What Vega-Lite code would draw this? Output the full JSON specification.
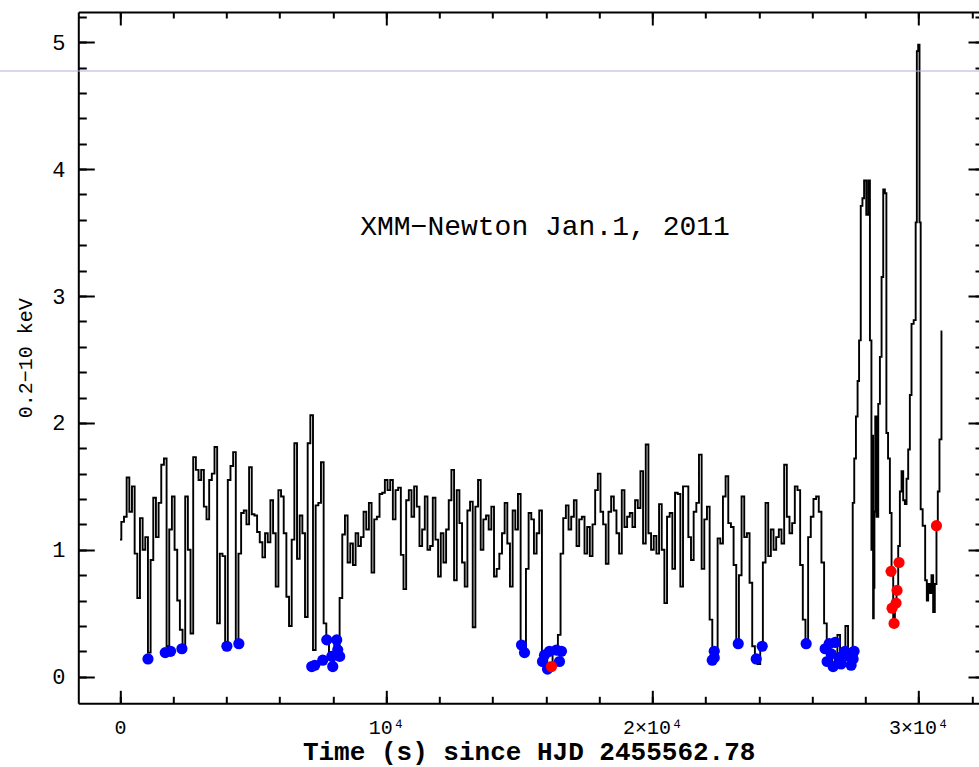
{
"$schema":"https://vega.github.io/schema/vega-lite/v6.json",
"width":900.7,"height":691.3,
"autosize":{"type":"none"},
"padding":{"left":78.3,"top":12,"right":0,"bottom":63.7},
"background":"white",
"config":{"view":{"stroke":null},"font":"Liberation Mono","axis":{"grid":false,"domainColor":"black","tickColor":"black","labelColor":"black","titleColor":"black","labelFont":"Liberation Mono","titleFont":"Liberation Mono","domainWidth":2,"tickWidth":2}},
"datasets":{
"lc":[{"t":0,"r":1.08},{"t":100,"r":1.22},{"t":200,"r":1.26},{"t":300,"r":1.57},{"t":400,"r":1.3},{"t":500,"r":1.5},{"t":600,"r":0.97},{"t":700,"r":0.62},{"t":800,"r":1.25},{"t":900,"r":1.0},{"t":1000,"r":1.1},{"t":1100,"r":0.19},{"t":1200,"r":0.92},{"t":1300,"r":1.41},{"t":1400,"r":1.1},{"t":1500,"r":1.37},{"t":1600,"r":1.67},{"t":1700,"r":1.72},{"t":1800,"r":0.24},{"t":1900,"r":1.16},{"t":2000,"r":1.42},{"t":2100,"r":1.0},{"t":2200,"r":0.6},{"t":2300,"r":0.37},{"t":2400,"r":0.21},{"t":2500,"r":1.42},{"t":2600,"r":1.0},{"t":2700,"r":0.34},{"t":2800,"r":1.73},{"t":2900,"r":1.63},{"t":3000,"r":1.55},{"t":3100,"r":1.63},{"t":3200,"r":1.34},{"t":3300,"r":1.24},{"t":3400,"r":1.55},{"t":3500,"r":1.6},{"t":3600,"r":1.81},{"t":3700,"r":0.42},{"t":3800,"r":0.97},{"t":3900,"r":0.95},{"t":4000,"r":0.24},{"t":4100,"r":1.55},{"t":4200,"r":1.66},{"t":4300,"r":1.77},{"t":4400,"r":0.27},{"t":4500,"r":0.97},{"t":4600,"r":1.29},{"t":4700,"r":1.31},{"t":4800,"r":1.2},{"t":4900,"r":1.65},{"t":5000,"r":1.28},{"t":5100,"r":1.27},{"t":5200,"r":1.14},{"t":5300,"r":1.06},{"t":5400,"r":0.94},{"t":5500,"r":1.13},{"t":5600,"r":1.06},{"t":5700,"r":1.39},{"t":5800,"r":1.13},{"t":5900,"r":0.71},{"t":6000,"r":1.47},{"t":6100,"r":1.42},{"t":6200,"r":1.13},{"t":6300,"r":0.63},{"t":6400,"r":0.4},{"t":6500,"r":1.08},{"t":6600,"r":1.84},{"t":6700,"r":0.93},{"t":6800,"r":1.27},{"t":6900,"r":1.13},{"t":7000,"r":0.47},{"t":7100,"r":1.84},{"t":7200,"r":2.06},{"t":7300,"r":0.21},{"t":7400,"r":1.35},{"t":7500,"r":1.37},{"t":7600,"r":1.69},{"t":7700,"r":0.42},{"t":7800,"r":0.31},{"t":7900,"r":0.17},{"t":8000,"r":0.12},{"t":8100,"r":0.29},{"t":8200,"r":0.19},{"t":8300,"r":0.62},{"t":8400,"r":1.12},{"t":8500,"r":1.27},{"t":8600,"r":0.9},{"t":8700,"r":1.05},{"t":8800,"r":0.88},{"t":8900,"r":1.13},{"t":9000,"r":1.03},{"t":9100,"r":1.1},{"t":9200,"r":1.3},{"t":9300,"r":1.16},{"t":9400,"r":1.37},{"t":9500,"r":0.82},{"t":9600,"r":1.24},{"t":9700,"r":1.26},{"t":9800,"r":1.44},{"t":9900,"r":1.45},{"t":10000,"r":1.55},{"t":10100,"r":1.47},{"t":10200,"r":1.55},{"t":10300,"r":1.24},{"t":10400,"r":1.47},{"t":10500,"r":1.49},{"t":10600,"r":0.96},{"t":10700,"r":0.69},{"t":10800,"r":1.39},{"t":10900,"r":1.47},{"t":11000,"r":1.26},{"t":11100,"r":1.5},{"t":11200,"r":1.34},{"t":11300,"r":1.03},{"t":11400,"r":1.16},{"t":11500,"r":1.42},{"t":11600,"r":1.0},{"t":11700,"r":1.03},{"t":11800,"r":1.41},{"t":11900,"r":1.08},{"t":12000,"r":0.79},{"t":12100,"r":1.13},{"t":12200,"r":0.9},{"t":12300,"r":1.16},{"t":12400,"r":1.39},{"t":12500,"r":1.63},{"t":12600,"r":0.76},{"t":12700,"r":1.47},{"t":12800,"r":1.21},{"t":12900,"r":0.9},{"t":13000,"r":0.71},{"t":13100,"r":1.31},{"t":13200,"r":1.38},{"t":13300,"r":0.39},{"t":13400,"r":1.34},{"t":13500,"r":1.55},{"t":13600,"r":1.0},{"t":13700,"r":1.24},{"t":13800,"r":1.27},{"t":13900,"r":1.16},{"t":14000,"r":1.34},{"t":14100,"r":0.79},{"t":14200,"r":0.85},{"t":14300,"r":0.97},{"t":14400,"r":1.13},{"t":14500,"r":1.37},{"t":14600,"r":1.05},{"t":14700,"r":0.71},{"t":14800,"r":1.31},{"t":14900,"r":1.16},{"t":15000,"r":1.44},{"t":15100,"r":0.27},{"t":15200,"r":0.19},{"t":15300,"r":0.85},{"t":15400,"r":1.29},{"t":15500,"r":1.24},{"t":15600,"r":0.97},{"t":15700,"r":1.13},{"t":15800,"r":1.31},{"t":15900,"r":0.19},{"t":16000,"r":0.14},{"t":16100,"r":0.1},{"t":16200,"r":0.08},{"t":16300,"r":0.19},{"t":16400,"r":0.21},{"t":16500,"r":0.33},{"t":16600,"r":0.97},{"t":16700,"r":1.25},{"t":16800,"r":1.35},{"t":16900,"r":1.16},{"t":17000,"r":1.26},{"t":17100,"r":1.39},{"t":17200,"r":1.03},{"t":17300,"r":1.24},{"t":17400,"r":1.26},{"t":17500,"r":0.97},{"t":17600,"r":1.18},{"t":17700,"r":0.95},{"t":17800,"r":1.2},{"t":17900,"r":1.47},{"t":18000,"r":1.6},{"t":18100,"r":1.3},{"t":18200,"r":1.2},{"t":18300,"r":0.89},{"t":18400,"r":1.3},{"t":18500,"r":1.42},{"t":18600,"r":1.31},{"t":18700,"r":1.13},{"t":18800,"r":0.97},{"t":18900,"r":1.47},{"t":19000,"r":1.18},{"t":19100,"r":1.26},{"t":19200,"r":1.29},{"t":19300,"r":1.18},{"t":19400,"r":1.39},{"t":19500,"r":1.33},{"t":19600,"r":1.62},{"t":19700,"r":1.05},{"t":19800,"r":1.83},{"t":19900,"r":1.13},{"t":20000,"r":1.0},{"t":20100,"r":1.11},{"t":20200,"r":0.97},{"t":20300,"r":1.36},{"t":20400,"r":1.0},{"t":20500,"r":0.58},{"t":20600,"r":1.26},{"t":20700,"r":1.29},{"t":20800,"r":0.85},{"t":20900,"r":1.45},{"t":21000,"r":1.44},{"t":21100,"r":0.71},{"t":21200,"r":1.5},{"t":21300,"r":1.5},{"t":21400,"r":1.1},{"t":21500,"r":0.92},{"t":21600,"r":1.3},{"t":21700,"r":1.37},{"t":21800,"r":1.75},{"t":21900,"r":0.85},{"t":22000,"r":1.24},{"t":22100,"r":1.34},{"t":22200,"r":0.45},{"t":22300,"r":0.19},{"t":22400,"r":0.15},{"t":22500,"r":1.09},{"t":22600,"r":1.05},{"t":22700,"r":1.42},{"t":22800,"r":1.58},{"t":22900,"r":1.21},{"t":23000,"r":1.18},{"t":23100,"r":0.88},{"t":23200,"r":0.27},{"t":23300,"r":0.8},{"t":23400,"r":1.42},{"t":23500,"r":1.1},{"t":23600,"r":1.13},{"t":23700,"r":0.74},{"t":23800,"r":0.24},{"t":23900,"r":0.16},{"t":24000,"r":0.1},{"t":24100,"r":0.24},{"t":24200,"r":0.9},{"t":24300,"r":1.37},{"t":24400,"r":0.95},{"t":24500,"r":1.16},{"t":24600,"r":1.0},{"t":24700,"r":1.1},{"t":24800,"r":1.16},{"t":24900,"r":1.05},{"t":25000,"r":1.67},{"t":25100,"r":1.26},{"t":25200,"r":1.13},{"t":25300,"r":1.21},{"t":25400,"r":1.5},{"t":25500,"r":1.47},{"t":25600,"r":0.88},{"t":25700,"r":0.45},{"t":25800,"r":0.27},{"t":25900,"r":1.1},{"t":26000,"r":1.26},{"t":26100,"r":1.4},{"t":26200,"r":1.42},{"t":26300,"r":1.3},{"t":26400,"r":0.9},{"t":26500,"r":0.42},{"t":26600,"r":0.2},{"t":26700,"r":0.1},{"t":26800,"r":0.2},{"t":26900,"r":0.12},{"t":27000,"r":0.33},{"t":27100,"r":0.15},{"t":27200,"r":0.1},{"t":27300,"r":0.4},{"t":27400,"r":0.12},{"t":27500,"r":0.15},{"t":27550,"r":1.37},{"t":27615,"r":1.72},{"t":27677,"r":2.05},{"t":27739,"r":2.33},{"t":27789,"r":2.65},{"t":27865,"r":3.71},{"t":27915,"r":3.77},{"t":27990,"r":3.91},{"t":28078,"r":3.64},{"t":28140,"r":3.91},{"t":28203,"r":2.65},{"t":28253,"r":1.0},{"t":28278,"r":1.9},{"t":28303,"r":0.46},{"t":28328,"r":0.7},{"t":28353,"r":1.3},{"t":28390,"r":2.05},{"t":28453,"r":1.26},{"t":28515,"r":2.15},{"t":28578,"r":2.52},{"t":28640,"r":3.15},{"t":28703,"r":3.84},{"t":28765,"r":3.81},{"t":28815,"r":1.92},{"t":28890,"r":1.72},{"t":28953,"r":1.29},{"t":29015,"r":0.86},{"t":29078,"r":0.43},{"t":29140,"r":0.58},{"t":29203,"r":0.69},{"t":29265,"r":1.03},{"t":29328,"r":1.46},{"t":29390,"r":1.62},{"t":29453,"r":1.39},{"t":29515,"r":1.36},{"t":29578,"r":1.56},{"t":29640,"r":1.79},{"t":29703,"r":2.22},{"t":29765,"r":2.78},{"t":29865,"r":2.81},{"t":29915,"r":3.58},{"t":29953,"r":4.93},{"t":30015,"r":4.98},{"t":30053,"r":3.58},{"t":30103,"r":1.32},{"t":30203,"r":1.19},{"t":30290,"r":0.76},{"t":30328,"r":0.6},{"t":30390,"r":0.73},{"t":30453,"r":0.66},{"t":30515,"r":0.8},{"t":30578,"r":0.51},{"t":30640,"r":0.73},{"t":30703,"r":1.19},{"t":30740,"r":1.46},{"t":30828,"r":1.87},{"t":30890,"r":2.72}],
"blue":[{"t":1051,"r":0.14},{"t":1700,"r":0.19},{"t":1900,"r":0.2},{"t":2326,"r":0.22},{"t":4015,"r":0.24},{"t":4465,"r":0.26},{"t":7204,"r":0.08},{"t":7316,"r":0.09},{"t":7617,"r":0.13},{"t":7767,"r":0.29},{"t":8142,"r":0.29},{"t":7954,"r":0.16},{"t":8254,"r":0.16},{"t":7992,"r":0.08},{"t":8180,"r":0.21},{"t":15083,"r":0.25},{"t":15196,"r":0.19},{"t":15871,"r":0.12},{"t":15946,"r":0.17},{"t":16134,"r":0.2},{"t":16396,"r":0.21},{"t":16584,"r":0.2},{"t":16059,"r":0.06},{"t":16509,"r":0.12},{"t":22324,"r":0.2},{"t":22324,"r":0.15},{"t":22249,"r":0.13},{"t":23225,"r":0.26},{"t":23900,"r":0.14},{"t":24125,"r":0.24},{"t":25776,"r":0.26},{"t":26489,"r":0.22},{"t":26564,"r":0.12},{"t":26639,"r":0.26},{"t":26714,"r":0.18},{"t":26789,"r":0.08},{"t":26864,"r":0.27},{"t":27014,"r":0.15},{"t":27089,"r":0.1},{"t":27239,"r":0.2},{"t":27389,"r":0.16},{"t":27464,"r":0.09},{"t":27539,"r":0.14},{"t":27577,"r":0.2}],
"red":[{"t":16209,"r":0.08},{"t":28965,"r":0.83},{"t":29265,"r":0.9},{"t":29190,"r":0.68},{"t":29153,"r":0.58},{"t":29003,"r":0.54},{"t":29078,"r":0.42},{"t":30670,"r":1.19}],
"note":[{"t":15966,"r":3.544,"label":"XMM−Newton Jan.1, 2011"}],
"artifact":[{"t":-5000,"t2":34000,"r":4.773}]
},
"layer":[
{"data":{"name":"lc"},"mark":{"type":"line","interpolate":"step","color":"black","strokeWidth":1.9},
 "encoding":{
  "x":{"field":"t","type":"quantitative","scale":{"domain":[-1566.5,32269],"nice":false,"zero":false},
   "axis":{"orient":"bottom","values":[0,10000,20000,30000],"labelExpr":"datum.value == 0 ? '0' : datum.value == 10000 ? '10⁴' : datum.value == 20000 ? '2×10⁴' : '3×10⁴'","tickSize":-13,"labelPadding":37,"labelBaseline":"middle","labelFontSize":20,"title":"Time (s) since HJD 2455562.78","titleFontSize":26,"titleFontWeight":"bold","titleBaseline":"middle","titleY":47.7,"titleX":450.35}},
  "y":{"field":"r","type":"quantitative","scale":{"domain":[-0.2096,5.238],"nice":false,"zero":false},
   "axis":{"orient":"left","values":[0,1,2,3,4,5],"tickSize":-16,"labelPadding":29.3,"labelFontSize":22,"labelBaseline":"middle","title":"0.2−10 keV","titleFontSize":20,"titleFontWeight":"normal","titleBaseline":"middle","titleX":-53.3,"titleY":345.65}}
 }},
{"data":{"name":"blue"},"mark":{"type":"circle","size":125,"color":"#0000ff","opacity":1},
 "encoding":{
  "x":{"field":"t","type":"quantitative","scale":{"domain":[-1566.5,32269],"nice":false,"zero":false},
   "axis":{"orient":"bottom","values":[0,2000,4000,6000,8000,10000,12000,14000,16000,18000,20000,22000,24000,26000,28000,30000,32000],"labels":false,"domain":false,"tickSize":-7,"title":null}},
  "y":{"field":"r","type":"quantitative","scale":{"domain":[-0.2096,5.238],"nice":false,"zero":false},
   "axis":{"orient":"left","values":[0,0.2,0.4,0.6,0.8,1,1.2,1.4,1.6,1.8,2,2.2,2.4,2.6,2.8,3,3.2,3.4,3.6,3.8,4,4.2,4.4,4.6,4.8,5,5.2],"labels":false,"domain":false,"tickSize":-8,"title":null}}
 }},
{"data":{"name":"red"},"mark":{"type":"circle","size":125,"color":"#ff0000","opacity":1},
 "encoding":{
  "x":{"field":"t","type":"quantitative","scale":{"domain":[-1566.5,32269],"nice":false,"zero":false},
   "axis":{"orient":"top","values":[0,10000,20000,30000],"labels":false,"tickSize":-13,"title":null}},
  "y":{"field":"r","type":"quantitative","scale":{"domain":[-0.2096,5.238],"nice":false,"zero":false},
   "axis":{"orient":"right","values":[0,1,2,3,4,5],"labels":false,"domain":false,"tickSize":-11,"title":null}}
 }},
{"data":{"name":"note"},"mark":{"type":"text","fontSize":28,"font":"Liberation Mono","align":"center","baseline":"middle","color":"black"},
 "encoding":{
  "x":{"field":"t","type":"quantitative","scale":{"domain":[-1566.5,32269],"nice":false,"zero":false},
   "axis":{"orient":"top","values":[0,2000,4000,6000,8000,10000,12000,14000,16000,18000,20000,22000,24000,26000,28000,30000,32000],"labels":false,"domain":false,"tickSize":-6,"title":null}},
  "y":{"field":"r","type":"quantitative","scale":{"domain":[-0.2096,5.238],"nice":false,"zero":false},
   "axis":{"orient":"right","values":[0,0.2,0.4,0.6,0.8,1,1.2,1.4,1.6,1.8,2,2.2,2.4,2.6,2.8,3,3.2,3.4,3.6,3.8,4,4.2,4.4,4.6,4.8,5,5.2],"labels":false,"domain":false,"tickSize":-4,"title":null}},
  "text":{"field":"label"}
 }},
{"data":{"name":"artifact"},"mark":{"type":"rule","color":"#b4b0de","strokeWidth":1,"clip":false},
 "encoding":{
  "x":{"field":"t","type":"quantitative","axis":null},
  "x2":{"field":"t2"},
  "y":{"field":"r","type":"quantitative","axis":null}
 }}
],
"resolve":{"axis":{"x":"independent","y":"independent"}}
}
